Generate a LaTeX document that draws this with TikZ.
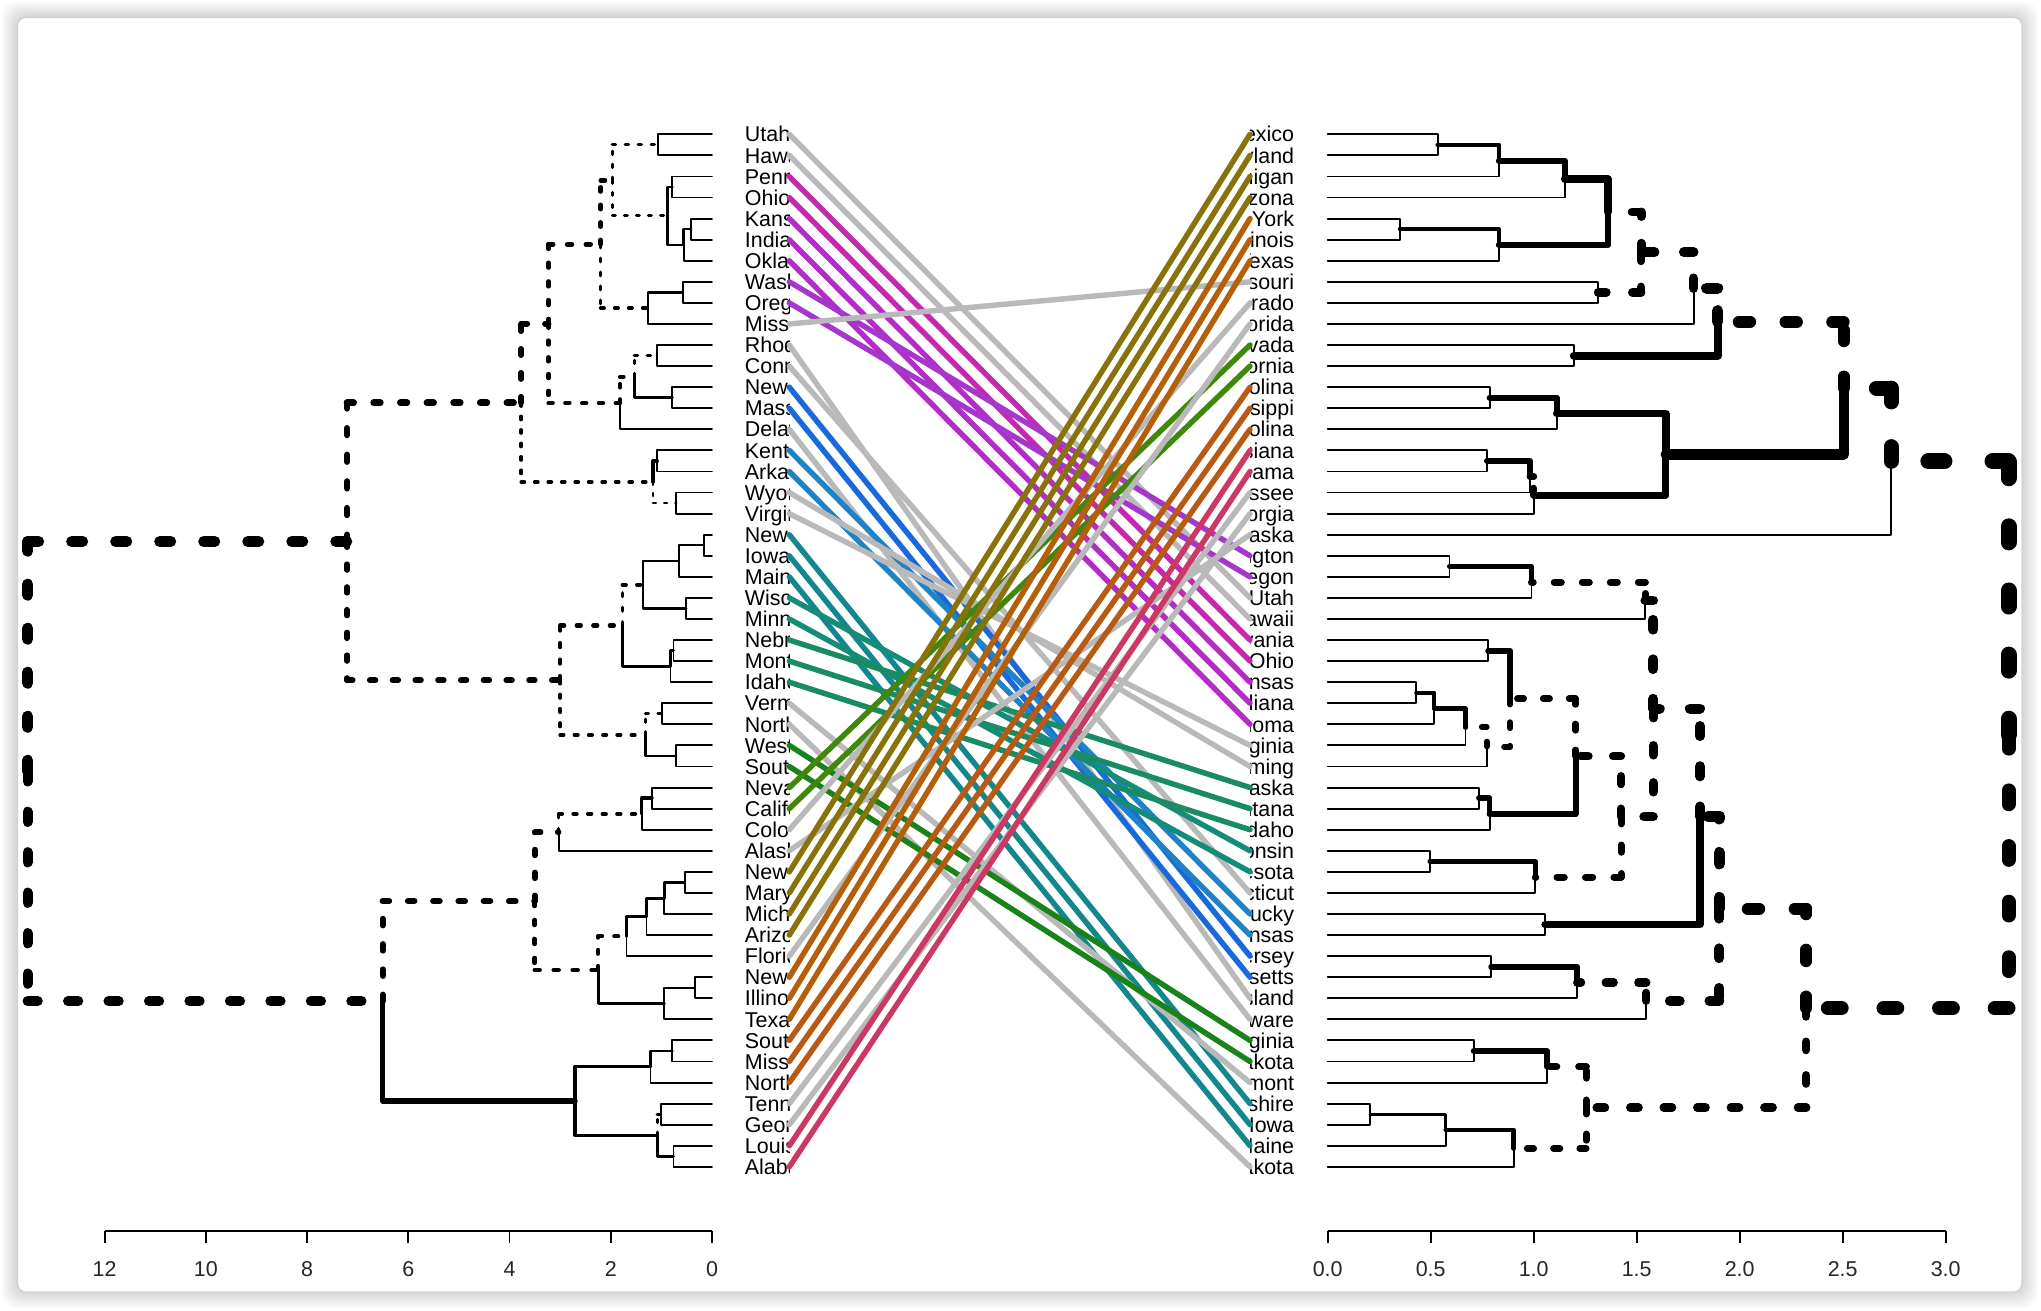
\documentclass[tikz,border=0pt]{standalone}
\usepackage{fontspec}
\setmainfont{Liberation Sans}
\usepackage{xcolor}
\usetikzlibrary{calc}

\definecolor{gline}{RGB}{185,185,185}
\definecolor{cmagA}{RGB}{196,40,176}
\definecolor{cmagB}{RGB}{180,44,200}
\definecolor{cpurple}{RGB}{165,55,205}
\definecolor{cblueA}{RGB}{25,105,220}
\definecolor{cblueB}{RGB}{30,130,200}
\definecolor{ctealA}{RGB}{20,135,140}
\definecolor{ctealB}{RGB}{20,140,120}
\definecolor{ctealC}{RGB}{25,140,100}
\definecolor{cgreenA}{RGB}{25,130,25}
\definecolor{cgreenB}{RGB}{65,135,10}
\definecolor{colive}{RGB}{135,115,10}
\definecolor{corangeA}{RGB}{180,95,10}
\definecolor{corangeB}{RGB}{185,90,20}
\definecolor{cpink}{RGB}{205,55,100}

\newcommand{\labelfont}{\fontsize{6.1pt}{7pt}\selectfont}
% row i of both trees, in cm
\newcommand{\rowy}[1]{-1.343-0.21072*(#1-1)}

% leaf of a tree: name, row
\newcommand{\treeleaf}[2]{%
  \expandafter\xdef\csname hgt-#1\endcsname{0}%
  \expandafter\xdef\csname row-#1\endcsname{#2}%
  \coordinate (#1) at (\treezero, {\rowy{#2}});%
}

% one branch: s or d, parent, child
\newcommand{\treebranch}[3]{%
  \pgfmathsetmacro{\branchw}{0.54*(1+9*\csname hgt-#3\endcsname/\treetop)}%
  \if d#1%
    \pgfmathsetmacro{\branchgap}{3*\branchw}%
    \draw[treeline, line width=\branchw pt, dash pattern=on \branchw pt off \branchgap pt] (#2) -- (#2 |- #3);%
    \draw[treeline, line width=\branchw pt, dash pattern=on \branchw pt off \branchgap pt] (#2 |- #3) -- (#3);%
  \else
    \draw[treeline, line width=\branchw pt] (#2) |- (#3);%
  \fi
}

% inner node: name, height, child a, line a, child b, line b
\newcommand{\treejoin}[6]{%
  \pgfmathsetmacro{\joinrow}{(\csname row-#3\endcsname+\csname row-#5\endcsname)/2}%
  \expandafter\xdef\csname hgt-#1\endcsname{#2}%
  \expandafter\xdef\csname row-#1\endcsname{\joinrow}%
  \coordinate (#1) at ({\treezero+\treedir*#2}, {\rowy{\joinrow}});%
  \treebranch{#4}{#1}{#3}%
  \treebranch{#6}{#1}{#5}%
}

\begin{document}
\begin{tikzpicture}[
    leaflabel/.style = {font=\labelfont, inner sep=0pt, text=black, yshift=-2.18pt},
    treeline/.style = {draw=black, line cap=round, line join=round},
    tangle/.style = {line width=1.55pt, line cap=round},
    axisline/.style = {draw=black, line width=0.55pt},
    ticklabel/.style = {font=\labelfont, inner sep=0pt, anchor=base, text=black!85}
]
\useasboundingbox (0,0) rectangle (20.41,-13.10);

% Card and shadow
\fill[white] (0,0) rectangle (20.41,-13.10);
\foreach \k in {1,...,8}
  \fill[black, opacity=0.02, rounded corners=0.15cm] ({0.175-0.02*\k},{-0.175+0.02*\k}) rectangle ({20.22+0.02*\k},{-12.92-0.02*\k});
\fill[white, draw=black!18, line width=0.4pt, rounded corners=0.08cm] (0.175,-0.175) rectangle (20.22,-12.92);

% Left leaves and labels
\def\treezero{7.12}\def\treedir{(-0.5062)}\def\treetop{13.52}
\begin{scope}
\clip (7.40,-1.0) rectangle (7.893,-12.0);
\foreach \st/\txt [count=\i] in {UT/Utah, HI/Hawaii, PA/Pennsylvania, OH/Ohio, KS/Kansas, IN/Indiana, OK/Oklahoma, WA/Washington, OR/Oregon, MO/Missouri, RI/Rhode Island, CT/Connecticut, NJ/New Jersey, MA/Massachusetts, DE/Delaware, KY/Kentucky, AR/Arkansas, WY/Wyoming, VA/Virginia, NH/New Hampshire, IA/Iowa, ME/Maine, WI/Wisconsin, MN/Minnesota, NE/Nebraska, MT/Montana, ID/Idaho, VT/Vermont, ND/North Dakota, WV/West Virginia, SD/South Dakota, NV/Nevada, CA/California, CO/Colorado, AK/Alaska, NM/New Mexico, MD/Maryland, MI/Michigan, AZ/Arizona, FL/Florida, NY/New York, IL/Illinois, TX/Texas, SC/South Carolina, MS/Mississippi, NC/North Carolina, TN/Tennessee, GA/Georgia, LA/Louisiana, AL/Alabama} {
  \treeleaf{l\st}{\i}
  \coordinate (lend\st) at (7.893, {\rowy{\i}});
  \node[leaflabel, anchor=base west] (ltext\st) at (7.442, {\rowy{\i}}) {\txt};
}
\end{scope}

% Left tree
\treejoin{lA1}{1.063}{lUT}{s}{lHI}{s}
\treejoin{lA2}{0.782}{lPA}{s}{lOH}{s}
\treejoin{lA3}{0.409}{lKS}{s}{lIN}{s}
\treejoin{lA4}{0.56}{lA3}{s}{lOK}{s}
\treejoin{lA5}{0.883}{lA2}{s}{lA4}{s}
\treejoin{lA6}{1.97}{lA1}{d}{lA5}{d}
\treejoin{lA7}{0.58}{lWA}{s}{lOR}{s}
\treejoin{lA8}{1.265}{lA7}{s}{lMO}{s}
\treejoin{lA9}{2.20}{lA6}{d}{lA8}{d}
\treejoin{lA10}{1.084}{lRI}{s}{lCT}{s}
\treejoin{lA11}{0.782}{lNJ}{s}{lMA}{s}
\treejoin{lA12}{1.537}{lA10}{d}{lA11}{s}
\treejoin{lA13}{1.82}{lA12}{d}{lDE}{s}
\treejoin{lA14}{3.23}{lA9}{d}{lA13}{d}
\treejoin{lA15}{1.08}{lKY}{s}{lAR}{s}
\treejoin{lA16}{0.71}{lWY}{s}{lVA}{s}
\treejoin{lA17}{1.165}{lA15}{s}{lA16}{d}
\treejoin{lA18}{3.77}{lA14}{d}{lA17}{d}
\treejoin{lB1}{0.157}{lNH}{s}{lIA}{s}
\treejoin{lB2}{0.66}{lB1}{s}{lME}{s}
\treejoin{lB3}{0.51}{lWI}{s}{lMN}{s}
\treejoin{lB4}{1.365}{lB2}{s}{lB3}{s}
\treejoin{lB5}{0.76}{lNE}{s}{lMT}{s}
\treejoin{lB6}{0.82}{lB5}{s}{lID}{s}
\treejoin{lB7}{1.77}{lB4}{d}{lB6}{s}
\treejoin{lB8}{0.98}{lVT}{s}{lND}{s}
\treejoin{lB9}{0.71}{lWV}{s}{lSD}{s}
\treejoin{lB10}{1.315}{lB8}{d}{lB9}{s}
\treejoin{lB11}{3.0}{lB7}{d}{lB10}{d}
\treejoin{lC1}{7.21}{lA18}{d}{lB11}{d}
\treejoin{lD1}{1.185}{lNV}{s}{lCA}{s}
\treejoin{lD2}{1.387}{lD1}{s}{lCO}{s}
\treejoin{lD3}{3.03}{lD2}{d}{lAK}{s}
\treejoin{lD4}{0.54}{lNM}{s}{lMD}{s}
\treejoin{lD5}{0.942}{lD4}{s}{lMI}{s}
\treejoin{lD6}{1.295}{lD5}{s}{lAZ}{s}
\treejoin{lD7}{1.69}{lD6}{s}{lFL}{s}
\treejoin{lD8}{0.338}{lNY}{s}{lIL}{s}
\treejoin{lD9}{0.942}{lD8}{s}{lTX}{s}
\treejoin{lD10}{2.25}{lD7}{d}{lD9}{s}
\treejoin{lD11}{3.50}{lD3}{d}{lD10}{d}
\treejoin{lE1}{0.782}{lSC}{s}{lMS}{s}
\treejoin{lE2}{1.215}{lE1}{s}{lNC}{s}
\treejoin{lE3}{1.013}{lTN}{s}{lGA}{s}
\treejoin{lE4}{0.76}{lLA}{s}{lAL}{s}
\treejoin{lE5}{1.084}{lE3}{d}{lE4}{s}
\treejoin{lE6}{2.706}{lE2}{s}{lE5}{s}
\treejoin{lD12}{6.505}{lD11}{d}{lE6}{s}
\treejoin{lroot}{13.52}{lC1}{d}{lD12}{d}

% Right leaves and labels
\def\treezero{13.277}\def\treedir{2.06}\def\treetop{3.305}
\begin{scope}
\clip (12.50,-1.0) rectangle (13.0,-12.0);
\foreach \st/\txt [count=\i] in {NM/New Mexico, MD/Maryland, MI/Michigan, AZ/Arizona, NY/New York, IL/Illinois, TX/Texas, MO/Missouri, CO/Colorado, FL/Florida, NV/Nevada, CA/California, SC/South Carolina, MS/Mississippi, NC/North Carolina, LA/Louisiana, AL/Alabama, TN/Tennessee, GA/Georgia, AK/Alaska, WA/Washington, OR/Oregon, UT/Utah, HI/Hawaii, PA/Pennsylvania, OH/Ohio, KS/Kansas, IN/Indiana, OK/Oklahoma, VA/Virginia, WY/Wyoming, NE/Nebraska, MT/Montana, ID/Idaho, WI/Wisconsin, MN/Minnesota, CT/Connecticut, KY/Kentucky, AR/Arkansas, NJ/New Jersey, MA/Massachusetts, RI/Rhode Island, DE/Delaware, WV/West Virginia, SD/South Dakota, VT/Vermont, NH/New Hampshire, IA/Iowa, ME/Maine, ND/North Dakota} {
  \treeleaf{r\st}{\i}
  \coordinate (rend\st) at (12.50, {\rowy{\i}});
  \node[leaflabel, anchor=base east] (rtext\st) at (12.948, {\rowy{\i}}) {\txt};
}
\end{scope}

% Right tree
\treejoin{rR1}{0.534}{rNM}{s}{rMD}{s}
\treejoin{rR2}{0.831}{rR1}{s}{rMI}{s}
\treejoin{rR3}{1.151}{rR2}{s}{rAZ}{s}
\treejoin{rR4}{0.349}{rNY}{s}{rIL}{s}
\treejoin{rR5}{0.831}{rR4}{s}{rTX}{s}
\treejoin{rR6}{1.359}{rR3}{s}{rR5}{s}
\treejoin{rR7}{1.313}{rMO}{s}{rCO}{s}
\treejoin{rR8}{1.521}{rR6}{d}{rR7}{d}
\treejoin{rR9}{1.776}{rR8}{d}{rFL}{s}
\treejoin{rR10}{1.195}{rNV}{s}{rCA}{s}
\treejoin{rR11}{1.893}{rR9}{d}{rR10}{s}
\treejoin{rR12}{0.786}{rSC}{s}{rMS}{s}
\treejoin{rR13}{1.112}{rR12}{s}{rNC}{s}
\treejoin{rR14}{0.773}{rLA}{s}{rAL}{s}
\treejoin{rR15}{0.982}{rR14}{s}{rTN}{s}
\treejoin{rR16}{1.0}{rR15}{d}{rGA}{s}
\treejoin{rR17}{1.641}{rR13}{s}{rR16}{s}
\treejoin{rR18}{2.505}{rR11}{d}{rR17}{s}
\treejoin{rR19}{2.735}{rR18}{d}{rAK}{s}
\treejoin{rR20}{0.591}{rWA}{s}{rOR}{s}
\treejoin{rR21}{0.989}{rR20}{s}{rUT}{s}
\treejoin{rR22}{1.542}{rR21}{d}{rHI}{s}
\treejoin{rR23}{0.779}{rPA}{s}{rOH}{s}
\treejoin{rR24}{0.43}{rKS}{s}{rIN}{s}
\treejoin{rR25}{0.518}{rR24}{s}{rOK}{s}
\treejoin{rR26}{0.669}{rR25}{s}{rVA}{s}
\treejoin{rR27}{0.773}{rR26}{d}{rWY}{s}
\treejoin{rR28}{0.885}{rR23}{s}{rR27}{d}
\treejoin{rR29}{0.734}{rNE}{s}{rMT}{s}
\treejoin{rR30}{0.786}{rR29}{s}{rID}{s}
\treejoin{rR31}{1.203}{rR28}{d}{rR30}{s}
\treejoin{rR32}{0.495}{rWI}{s}{rMN}{s}
\treejoin{rR33}{1.008}{rR32}{s}{rCT}{s}
\treejoin{rR34}{1.424}{rR31}{d}{rR33}{d}
\treejoin{rR35}{1.58}{rR22}{d}{rR34}{d}
\treejoin{rR36}{1.055}{rKY}{s}{rAR}{s}
\treejoin{rR37}{1.807}{rR35}{d}{rR36}{s}
\treejoin{rR38}{0.794}{rNJ}{s}{rMA}{s}
\treejoin{rR39}{1.211}{rR38}{s}{rRI}{s}
\treejoin{rR40}{1.547}{rR39}{d}{rDE}{s}
\treejoin{rR41}{1.901}{rR37}{d}{rR40}{d}
\treejoin{rR42}{0.708}{rWV}{s}{rSD}{s}
\treejoin{rR43}{1.065}{rR42}{s}{rVT}{s}
\treejoin{rR44}{0.206}{rNH}{s}{rIA}{s}
\treejoin{rR45}{0.573}{rR44}{s}{rME}{s}
\treejoin{rR46}{0.903}{rR45}{s}{rND}{s}
\treejoin{rR47}{1.255}{rR43}{d}{rR46}{d}
\treejoin{rR48}{2.323}{rR41}{d}{rR47}{d}
\treejoin{rroot}{3.305}{rR19}{d}{rR48}{d}

% Connecting lines
\foreach \st/\col in {UT/gline, HI/gline, PA/cmagA, OH/cmagA, KS/cmagB, IN/cmagB, OK/cmagB, WA/cpurple, OR/cpurple, MO/gline, RI/gline, CT/gline, NJ/cblueA, MA/cblueA, DE/gline, KY/cblueB, AR/cblueB, WY/gline, VA/gline, NH/ctealA, IA/ctealA, ME/ctealA, WI/ctealB, MN/ctealB, NE/ctealC, MT/ctealC, ID/ctealC, VT/gline, ND/gline, WV/cgreenA, SD/cgreenA, NV/cgreenB, CA/cgreenB, CO/gline, AK/gline, NM/colive, MD/colive, MI/colive, AZ/colive, FL/gline, NY/corangeA, IL/corangeA, TX/corangeA, SC/corangeB, MS/corangeB, NC/corangeB, TN/gline, GA/gline, LA/cpink, AL/cpink}
  \draw[tangle, draw=\col] (lend\st) -- (rend\st);

% Axes
\draw[axisline] (1.046,-12.31) -- (7.12,-12.31);
\foreach \v in {0,2,...,12} {
  \draw[axisline] ({7.12-0.5062*\v},-12.31) -- ++(0,-0.12);
  \node[ticklabel] (ltick\v) at ({7.12-0.5062*\v},-12.76) {\v};
}
\draw[axisline] (13.277,-12.31) -- (19.457,-12.31);
\foreach \v/\t [count=\k] in {0/0.0, 0.5/0.5, 1/1.0, 1.5/1.5, 2/2.0, 2.5/2.5, 3/3.0} {
  \draw[axisline] ({13.277+2.06*\v},-12.31) -- ++(0,-0.12);
  \node[ticklabel] (rtick\k) at ({13.277+2.06*\v},-12.76) {\t};
}

\end{tikzpicture}
\end{document}
